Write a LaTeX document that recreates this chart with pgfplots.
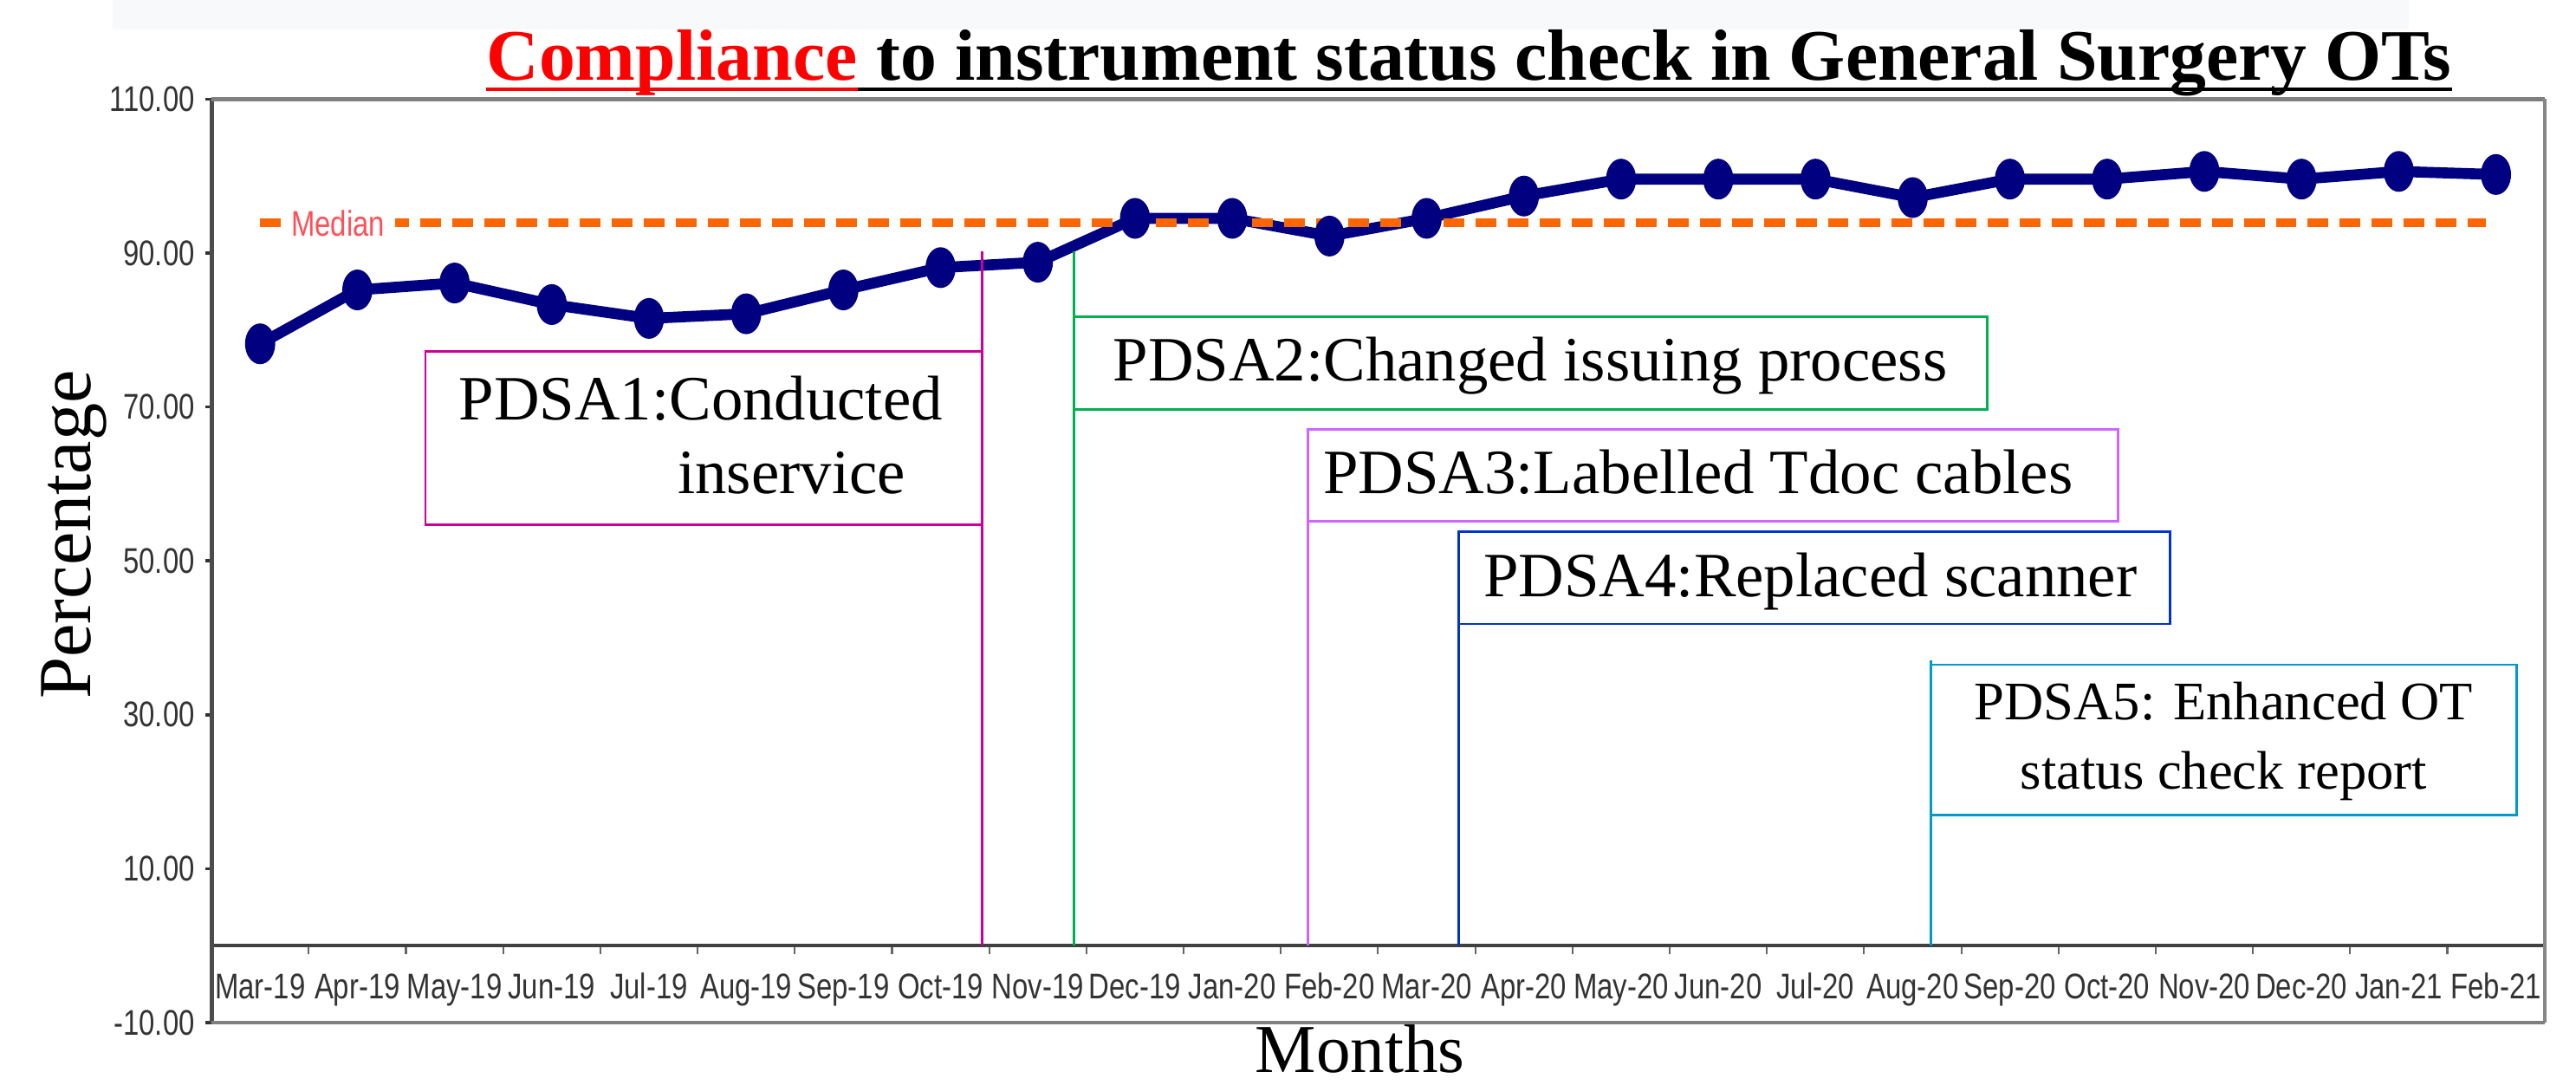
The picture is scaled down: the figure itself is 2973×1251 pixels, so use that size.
\documentclass[border=0pt]{standalone}
\usepackage{pgfplots}
\pgfplotsset{compat=1.18}
\usepackage{pgfplotstable}
\usepackage{fontspec}
\setmainfont{Liberation Serif}
\newfontfamily\narrowsans[FakeStretch=0.8]{Liberation Sans}
\definecolor{navyline}{RGB}{0,0,128}
\definecolor{medianorange}{RGB}{255,102,0}
\definecolor{medianred}{RGB}{255,80,90}
\definecolor{pdsaA}{RGB}{204,0,153}
\definecolor{pdsaB}{RGB}{0,176,80}
\definecolor{pdsaC}{RGB}{204,102,255}
\definecolor{pdsaD}{RGB}{0,51,204}
\definecolor{pdsaE}{RGB}{0,153,204}
\definecolor{topband}{RGB}{248,249,251}
\definecolor{ticktext}{RGB}{51,51,51}

\pgfplotstableread{
x y
0 78.2
1 85.2
2 86.1
3 83.3
4 81.5
5 82.1
6 85.2
7 88.1
8 88.8
9 94.5
10 94.5
11 92.2
12 94.5
13 97.4
14 99.6
15 99.6
16 99.6
17 97.2
18 99.6
19 99.6
20 100.6
21 99.6
22 100.6
23 100.2
}\compliance

\pgfplotstableread{
x y
0 93.9
22.9 93.9
}\median

\newcommand{\ticksfont}{\narrowsans\fontsize{11.7}{14}\selectfont}
\newcommand{\boxfont}{\fontsize{20.7}{25}\selectfont}
\newcommand{\boxfontsmall}{\fontsize{17.8}{21}\selectfont}
\newcommand{\titlefont}{\fontsize{23.8}{28}\selectfont\bfseries}

\begin{document}
\begin{tikzpicture}
\begin{scope}[x=0.01cm,y=0.01cm]
\path[use as bounding box] (0,0) rectangle (2973,1251);
\fill[topband] (130,1217) rectangle (2780,1251);
\end{scope}
\begin{axis}[
  at={(2.44cm,0.71cm)}, anchor=south west,
  width=26.91cm, height=10.65cm, scale only axis,
  xmin=-0.5, xmax=23.5, ymin=-10, ymax=110,
  axis x line=middle, axis y line=left,
  x axis line style={-, draw=black!75, line width=1.3pt},
  y axis line style={-, draw=black!70, line width=1.4pt},
  clip=false,
  xtick={0,...,23},
  xticklabels={Mar-19,Apr-19,May-19,Jun-19,Jul-19,Aug-19,Sep-19,Oct-19,Nov-19,Dec-19,Jan-20,Feb-20,Mar-20,Apr-20,May-20,Jun-20,Jul-20,Aug-20,Sep-20,Oct-20,Nov-20,Dec-20,Jan-21,Feb-21},
  minor xtick={-0.5,0.5,...,23.5},
  major x tick style={draw=none},
  minor x tick style={draw=black!60, line width=0.6pt},
  minor tick length=2.9pt,
  ytick={-10,10,30,50,70,90,110},
  yticklabels={-10.00,10.00,30.00,50.00,70.00,90.00,110.00},
  y tick style={draw=black!80, line width=1pt},
  major tick length=2pt,
  tick align=outside,
  tick label style={font=\ticksfont, text=ticktext},
  xticklabel style={anchor=base, yshift=-15.5pt},
  yticklabel style={anchor=east},
]
\addplot[navyline, line width=3.6pt, mark=*, mark size=4.7pt,
  mark options={yscale=1.37, fill=navyline, draw=navyline, line width=0.5pt}]
  table[x=x,y=y] {\compliance};
\addplot[medianorange, line width=2.85pt, dash pattern=on 6.8pt off 3.7pt]
  table[x=x,y=y] {\median};
\node[fill=white, inner xsep=3.4pt, inner ysep=1pt, text=medianred, font=\ticksfont]
  at (axis cs:0.8,93.9) {Median};
% frame
\draw[draw=black!50, line width=1.4pt] (rel axis cs:0,1) -- (rel axis cs:1,1);
\draw[draw=black!47, line width=1.1pt] (rel axis cs:1,1) -- (rel axis cs:1,0);
\draw[draw=black!50, line width=1.4pt] (rel axis cs:0,0) -- (rel axis cs:1,0);
% PDSA1
\draw[pdsaA, line width=0.8pt] (axis cs:7.43,90.2) -- (axis cs:7.43,0);
\draw[pdsaA, line width=0.8pt] (axis cs:1.70,77.2) rectangle (axis cs:7.43,54.7);
\node[anchor=base west, inner sep=0, font=\boxfont] at (axis cs:2.04,68.3) {PDSA1:Conducted};
\node[anchor=base west, inner sep=0, font=\boxfont] at (axis cs:4.29,58.7) {inservice};
% PDSA2
\draw[pdsaB, line width=0.8pt] (axis cs:8.375,90.2) -- (axis cs:8.375,0);
\draw[pdsaB, line width=0.8pt] (axis cs:8.375,81.7) rectangle (axis cs:17.77,69.7);
\node[anchor=base west, inner sep=0, font=\boxfont] at (axis cs:8.77,73.4) {PDSA2:Changed issuing process};
% PDSA3
\draw[pdsaC, line width=0.8pt] (axis cs:10.78,55.1) -- (axis cs:10.78,0);
\draw[pdsaC, line width=0.8pt] (axis cs:10.78,67.1) rectangle (axis cs:19.11,55.1);
\node[anchor=base west, inner sep=0, font=\boxfont] at (axis cs:10.93,58.7) {PDSA3:Labelled Tdoc cables};
% PDSA4
\draw[pdsaD, line width=0.8pt] (axis cs:12.33,41.8) -- (axis cs:12.33,0);
\draw[pdsaD, line width=0.8pt] (axis cs:12.33,53.8) rectangle (axis cs:19.65,41.8);
\node[anchor=base west, inner sep=0, font=\boxfont] at (axis cs:12.58,45.3) {PDSA4:Replaced scanner};
% PDSA5
\draw[pdsaE, line width=0.8pt] (axis cs:17.19,37.1) -- (axis cs:17.19,0);
\draw[pdsaE, line width=0.8pt] (axis cs:17.19,36.5) rectangle (axis cs:23.21,17.0);
\node[anchor=base, inner sep=0, font=\boxfontsmall] at (axis cs:20.20,29.4) {PDSA5: Enhanced OT};
\node[anchor=base, inner sep=0, font=\boxfontsmall] at (axis cs:20.20,20.4) {status check report};
\end{axis}
\begin{scope}[x=0.01cm,y=0.01cm]
\node[inner sep=0, anchor=base west, font=\titlefont, text=red] (t1) at (561,1158) {Compliance};
\node[inner sep=0, anchor=base west, font=\titlefont] (t2) at ([xshift=5.95pt]t1.base east) {to instrument status check in General Surgery OTs};
\draw[red, line width=1pt] ([yshift=-2.85pt]t1.base west) -- ([yshift=-2.85pt]t1.base east);
\draw[black, line width=1pt] ([yshift=-2.85pt]t1.base east) -- ([yshift=-2.85pt]t2.base east);
\node[rotate=90, anchor=base, inner sep=0, font=\fontsize{24.6}{29}\selectfont] at (104,634) {Percentage};
\node[anchor=base west, inner sep=0, font=\fontsize{22.5}{27}\selectfont] at (1448,14) {Months};
\end{scope}
\end{tikzpicture}
\end{document}
